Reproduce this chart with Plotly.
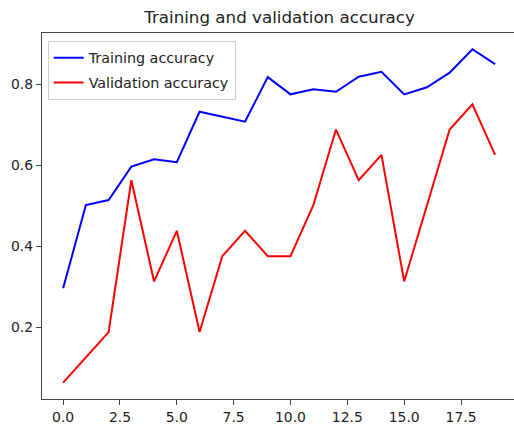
import plotly.graph_objects as go

epochs = list(range(20))
train_acc = [0.2955, 0.501, 0.5136, 0.596, 0.614, 0.607, 0.7316, 0.719, 0.707, 0.817,
             0.7745, 0.787, 0.781, 0.818, 0.83, 0.7745, 0.792, 0.828, 0.886, 0.849]
val_acc = [0.0625, 0.125, 0.1875, 0.5625, 0.3125, 0.4375, 0.1875, 0.375, 0.4375, 0.375,
           0.375, 0.5, 0.6875, 0.5625, 0.625, 0.3125, 0.5, 0.6875, 0.75, 0.625]
x_ticks = [0.0, 2.5, 5.0, 7.5, 10.0, 12.5, 15.0, 17.5]
y_ticks = [0.2, 0.4, 0.6, 0.8]

FONT = "DejaVu Sans"
fig = go.Figure()
fig.add_trace(go.Scatter(x=epochs, y=train_acc, mode="lines", name="Training accuracy",
                         line=dict(color="#0000ff", width=2), legendgroup="a"))
fig.add_trace(go.Scatter(x=epochs, y=val_acc, mode="lines", name="Validation accuracy",
                         line=dict(color="#ff0000", width=2), legendgroup="b"))

fig.update_layout(
    width=514, height=432,
    margin=dict(l=42, r=0, t=33, b=33),
    paper_bgcolor="white", plot_bgcolor="white",
    font=dict(family=FONT, size=13.9, color="#222"),
    title=dict(text="Training and validation accuracy", x=279.5/514, xanchor="center",
               y=1-17/432, yanchor="middle", yref="container",
               font=dict(family=FONT, size=16.7, color="#222")),
    showlegend=True,
    legend=dict(x=0.012, y=0.978, xanchor="left", yanchor="top",
                bgcolor="white", bordercolor="#cccccc", borderwidth=1,
                font=dict(family=FONT, size=14.3, color="#222"),
                tracegroupgap=3),
    xaxis=dict(range=[-0.93, 19.83], tickvals=x_ticks, tickformat=".1f",
               showgrid=False, zeroline=False, showline=True, linecolor="#444",
               linewidth=1.2, mirror=True, ticks="outside", ticklen=5, tickcolor="#444"),
    yaxis=dict(range=[0.0222, 0.926], tickvals=y_ticks, tickformat=".1f",
               showgrid=False, zeroline=False, showline=True, linecolor="#444",
               linewidth=1.2, mirror=False, ticks="outside", ticklen=5, tickcolor="#444"),
)

fig.write_html("out.html", config={"displayModeBar": False},
               post_script="document.body.style.margin='0';document.body.style.overflow='hidden';")
